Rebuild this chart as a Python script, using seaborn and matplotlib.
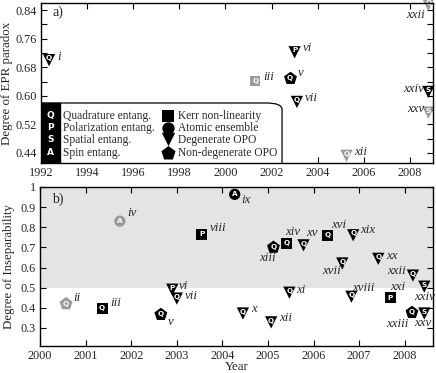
import matplotlib
matplotlib.use("Agg")
import matplotlib.pyplot as plt
import seaborn as sns
import pandas as pd
from matplotlib.patches import FancyBboxPatch, Rectangle

# ---------------- data: panel a) Degree of EPR paradox ----------------
years_a = [1992.35, 2001.3, 2002.8, 2003.0, 2003.1, 2005.25, 2008.8, 2008.8, 2008.8]
values_a = [0.700, 0.641, 0.650, 0.722, 0.583, 0.432, 0.855, 0.611, 0.553]
names_a = ["i", "iii", "v", "vi", "vii", "xii", "xxii", "xxiv", "xxv"]
shapes_a = ["dopo", "kerr", "ndopo", "dopo", "dopo", "dopo", "dopo", "dopo", "dopo"]
letters_a = ["Q", "Q", "Q", "P", "Q", "Q", "Q", "S", "S"]
tones_a = ["black", "gray", "black", "black", "black", "gray", "gray", "black", "gray"]

# ---------------- data: panel b) Degree of Inseparability ----------------
years_b = [2000.57, 2001.75, 2001.36, 2003.55, 2002.9, 2003.0, 2002.65,
           2004.27, 2004.45, 2005.07, 2005.47, 2005.12, 2005.4, 2005.78,
           2006.3, 2006.63, 2006.87, 2006.83, 2007.42, 2007.68, 2008.18,
           2008.43, 2008.16, 2008.43]
values_b = [0.42, 0.83, 0.397, 0.766, 0.49, 0.446, 0.367,
            0.963, 0.372, 0.328, 0.475, 0.70, 0.72, 0.71,
            0.76, 0.62, 0.76, 0.455, 0.643, 0.45, 0.56,
            0.505, 0.377, 0.372]
names_b = ["ii", "iv", "iii", "viii", "vi", "vii", "v",
           "ix", "x", "xii", "xi", "xiii", "xiv", "xv",
           "xvi", "xvii", "xix", "xviii", "xx", "xxi", "xxii",
           "xxiv", "xxiii", "xxv"]
shapes_b = ["ndopo", "atomic", "kerr", "kerr", "dopo", "dopo", "ndopo",
            "atomic", "dopo", "dopo", "dopo", "ndopo", "kerr", "dopo",
            "kerr", "dopo", "dopo", "dopo", "dopo", "kerr", "dopo",
            "dopo", "ndopo", "dopo"]
letters_b = ["Q", "A", "Q", "P", "P", "Q", "Q",
             "A", "Q", "Q", "Q", "Q", "Q", "Q",
             "Q", "Q", "Q", "Q", "Q", "P", "Q",
             "S", "Q", "S"]
tones_b = ["gray", "gray"] + ["black"] * 22

# legend content
entang_letters = ["Q", "P", "S", "A"]
entang_names = ["Quadrature entang.", "Polarization entang.", "Spatial entang.", "Spin entang."]
source_keys = ["kerr", "atomic", "dopo", "ndopo"]
source_names = ["Kerr non-linearity", "Atomic ensemble", "Degenerate OPO", "Non-degenerate OPO"]

# ---------------- style (not data) ----------------
marker_of = {"kerr": "s", "atomic": "o", "dopo": "v", "ndopo": "p"}
size_of = {"kerr": 62, "atomic": 66, "dopo": 78, "ndopo": 95}
palette = {"black": "#000000", "gray": "#9a9a9a"}
# label offsets in pixels (dx, dy, ha)
offs_a = [(8, 3, "left"), (8, 4, "left"), (8, 5, "left"), (8, 4, "left"), (8, 4, "left"),
          (8, 4, "left"), (-3, -10, "right"), (-4, 3, "right"), (-4, 4, "right")]
offs_b = [(7, 6, "left"), (7, 8, "left"), (8, 5, "left"), (8, 6, "left"), (7, 4, "left"),
          (8, 3, "left"), (7, -8, "left"), (7, -6, "left"), (8, 4, "left"), (8, 4, "left"),
          (7, 3, "left"), (-6, -11, "center"), (7, 11, "center"), (3, 12, "left"),
          (4, 10, "left"), (-11, -8, "center"), (7, 5, "left"), (1, 9, "left"),
          (8, 3, "left"), (0, 11, "left"), (-7, 5, "right"), (0, -10, "center"),
          (-3, -12, "right"), (-2, -10, "center")]

sns.set_theme(style="ticks")
plt.rcParams["font.family"] = ["Liberation Serif", "DejaVu Serif"]

fig = plt.figure(figsize=(4.36, 3.73), dpi=100)
ax_a = fig.add_axes([0.094, 0.563, 0.899, 0.429])
ax_b = fig.add_axes([0.092, 0.072, 0.901, 0.427])


def draw_points(ax, years, values, shapes, letters, tones, names, offs):
    df = pd.DataFrame({"year": years, "value": values, "shape": shapes,
                       "letter": letters, "tone": tones, "name": names})
    for key in ["kerr", "atomic", "dopo", "ndopo"]:
        sub = df[df["shape"] == key]
        if len(sub) == 0:
            continue
        sns.scatterplot(data=sub, x="year", y="value", hue="tone", palette=palette,
                        marker=marker_of[key], s=size_of[key], linewidth=0,
                        legend=False, ax=ax, zorder=4, clip_on=False)
    for (_, r), (dx, dy, ha) in zip(df.iterrows(), offs):
        lift = 1.8 if r["shape"] == "dopo" else 0
        ax.annotate(r["letter"], (r["year"], r["value"]), xytext=(0, lift),
                    textcoords="offset pixels", ha="center", va="center",
                    color="white", fontsize=5.2, fontweight="bold",
                    family="DejaVu Sans", zorder=5, annotation_clip=False)
        ax.annotate(r["name"], (r["year"], r["value"]), xytext=(dx, dy),
                    textcoords="offset pixels", ha=ha, va="center",
                    fontsize=9.3, style="italic", zorder=6, annotation_clip=False)


# ---------- panel a ----------
draw_points(ax_a, years_a, values_a, shapes_a, letters_a, tones_a, names_a, offs_a)
ax_a.set_xlim(1992, 2009)
ax_a.set_ylim(0.412, 0.86)
ax_a.set_xticks(range(1992, 2009, 2))
ax_a.set_yticks([0.44, 0.52, 0.60, 0.68, 0.76, 0.84])
ax_a.set_yticks([0.48, 0.56, 0.64, 0.72, 0.80], minor=True)
ax_a.set_xlabel("")
ax_a.set_ylabel("Degree of EPR paradox", fontsize=9.3, labelpad=2)
ax_a.text(0.03, 0.94, "a)", transform=ax_a.transAxes, fontsize=10, va="center")

# legend drawn inside panel a
box = FancyBboxPatch((-0.1, -0.2), 0.715, 0.575, boxstyle="round,pad=0,rounding_size=0.04",
                     transform=ax_a.transAxes, facecolor="white", edgecolor="black",
                     linewidth=0.9, zorder=7, clip_on=True)
ax_a.add_patch(box)
box.set_clip_path(ax_a.patch)
ax_a.add_patch(Rectangle((0, 0), 0.048, 0.375, transform=ax_a.transAxes,
                         facecolor="black", edgecolor="black", zorder=8))
rows_y = [0.294, 0.219, 0.144, 0.0625]
for yy, let, nm in zip(rows_y, entang_letters, entang_names):
    ax_a.text(0.024, yy, let, transform=ax_a.transAxes, ha="center", va="center",
              color="white", fontsize=6.5, fontweight="bold", family="DejaVu Sans", zorder=9)
    ax_a.text(0.057, yy, nm, transform=ax_a.transAxes, ha="left", va="center",
              fontsize=8.3, zorder=9)
for yy, key, nm in zip(rows_y, source_keys, source_names):
    ax_a.scatter([0.323], [yy + (0.008 if key == "dopo" else 0)], transform=ax_a.transAxes,
                 marker=marker_of[key], s=size_of[key] * 1.2, color="black", linewidth=0,
                 zorder=9, clip_on=False)
    ax_a.text(0.349, yy, nm, transform=ax_a.transAxes, ha="left", va="center",
              fontsize=8.3, zorder=9)

# ---------- panel b ----------
ax_b.axhspan(0.5, 1.0, color="#e4e4e4", zorder=0, linewidth=0)
draw_points(ax_b, years_b, values_b, shapes_b, letters_b, tones_b, names_b, offs_b)
ax_b.set_xlim(2000, 2008.62)
ax_b.set_ylim(0.21, 1.0)
ax_b.set_xticks(range(2000, 2009))
ax_b.set_yticks([0.3, 0.4, 0.5, 0.6, 0.7, 0.8, 0.9, 1.0])
ax_b.set_yticklabels(["0.3", "0.4", "0.5", "0.6", "0.7", "0.8", "0.9", "1"])
ax_b.set_xlabel("Year", fontsize=9.3, labelpad=-1)
ax_b.set_ylabel("Degree of Inseparability", fontsize=9.3, labelpad=4)
ax_b.text(0.03, 0.92, "b)", transform=ax_b.transAxes, fontsize=10, va="center")

for ax in (ax_a, ax_b):
    for sp in ax.spines.values():
        sp.set_linewidth(1.0)
        sp.set_color("black")
        sp.set_zorder(10)
    ax.tick_params(which="both", direction="in", top=True, right=True,
                   labelsize=8.8, pad=3, color="black", width=0.8)
    ax.tick_params(which="major", length=4)
    ax.tick_params(which="minor", length=4)
    ax.tick_params(axis="x", pad=3)

fig.savefig("out.png", dpi=100)
